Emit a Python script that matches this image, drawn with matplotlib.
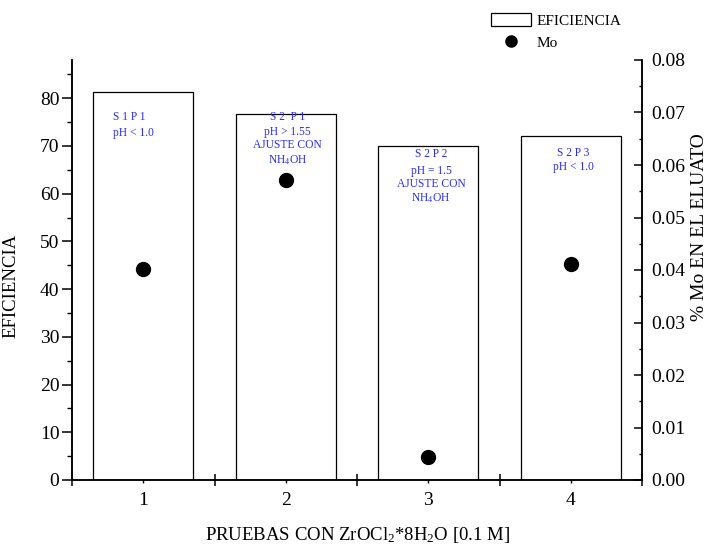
import matplotlib
matplotlib.use("Agg")
import matplotlib.pyplot as plt
from matplotlib.ticker import FixedLocator, MultipleLocator, NullFormatter, FixedFormatter, FormatStrFormatter

plt.rcParams['font.family'] = ['Liberation Serif', 'DejaVu Serif']
plt.rcParams['mathtext.fontset'] = 'custom'
plt.rcParams['mathtext.rm'] = 'Liberation Serif'
plt.rcParams['mathtext.it'] = 'Liberation Serif:italic'
plt.rcParams['mathtext.bf'] = 'Liberation Serif:bold'

# ---- data ----
pruebas = [1, 2, 3, 4]
tick_labels = ['1', '2', '3', '4']
eficiencia = [81.2, 76.6, 70.0, 72.1]
mo = [0.0402, 0.0571, 0.0043, 0.0411]
anotaciones = [
    ['S 1 P 1', 'pH < 1.0'],
    ['S 2  P 1', 'pH > 1.55', 'AJUSTE CON', 'NH$_4$OH'],
    ['S 2 P 2', 'pH = 1.5', 'AJUSTE CON', 'NH$_4$OH'],
    ['S 2 P 3', 'pH < 1.0'],
]

W, H = 710, 549
fig = plt.figure(figsize=(W / 100, H / 100), dpi=100)
ax = fig.add_axes([72 / W, 1 - 480 / H, 570 / W, 420 / H])
ax2 = ax.twinx()

bars = ax.bar(pruebas, eficiencia, width=0.7, facecolor='white',
              edgecolor='black', linewidth=0.9, label='EFICIENCIA', zorder=2)
pts, = ax2.plot(pruebas, mo, 'o', color='black', markersize=10,
                linestyle='none', label='Mo', zorder=3)

ax.set_xlim(0.5, 4.5)
ax.set_ylim(0, 88)
ax2.set_ylim(0, 0.08)

for a in (ax, ax2):
    a.spines['top'].set_visible(False)
    for s in ('left', 'right', 'bottom'):
        a.spines[s].set_linewidth(1.1)

# x ticks: major crossing ticks at half positions, minor labelled at 1..4
ax.xaxis.set_major_locator(FixedLocator([0.5, 1.5, 2.5, 3.5, 4.5]))
ax.xaxis.set_major_formatter(NullFormatter())
ax.xaxis.set_minor_locator(FixedLocator(pruebas))
ax.xaxis.set_minor_formatter(FixedFormatter(tick_labels))
ax.tick_params(axis='x', which='major', direction='inout', length=9, width=1.1)
ax.tick_params(axis='x', which='minor', direction='out', length=2.5, width=1.0,
               labelsize=14, pad=6)

ax.yaxis.set_major_locator(MultipleLocator(10))
ax.yaxis.set_minor_locator(MultipleLocator(5))
ax.tick_params(axis='y', which='major', direction='out', length=7, width=1.1,
               labelsize=14, pad=2)
ax.tick_params(axis='y', which='minor', direction='out', length=3.5, width=1.0)

ax2.yaxis.set_major_locator(MultipleLocator(0.01))
ax2.yaxis.set_minor_locator(MultipleLocator(0.005))
ax2.yaxis.set_major_formatter(FormatStrFormatter('%.2f'))
ax2.tick_params(axis='y', which='major', direction='in', length=5.5, width=1.1,
                labelsize=14, pad=7)
ax2.tick_params(axis='y', which='minor', direction='in', length=2.5, width=1.0)

# axis titles
fig.text(358 / W, 1 - 535 / H, 'PRUEBAS CON ZrOCl$_2$*8H$_2$O [0.1 M]',
         fontsize=13.5, ha='center', va='center')
fig.text(11 / W, 1 - 286 / H, 'EFICIENCIA', fontsize=13.5, rotation=90,
         ha='center', va='center')
fig.text(700 / W, 1 - 227 / H, '% Mo EN EL ELUATO', fontsize=14, rotation=90,
         ha='center', va='center')

# annotations
blue = '#2b2bff'
ann_pos = [
    (0.79, [76.0, 72.7], 'left'),
    (2.01, [76.0, 73.0, 70.1, 67.0], 'center'),
    (3.02, [68.3, 64.8, 62.0, 59.1], 'center'),
    (4.02, [68.5, 65.5], 'center'),
]
for lines, (x, ys, ha) in zip(anotaciones, ann_pos):
    for t, y in zip(lines, ys):
        ax.text(x, y, t, color=blue, fontsize=8.3, ha=ha, va='center', zorder=4)

leg = fig.legend(handles=[bars, pts], labels=['EFICIENCIA', 'Mo'],
                 loc='upper left', bbox_to_anchor=(488 / W, 1 - 10 / H),
                 frameon=False, fontsize=11, handlelength=2.6, handleheight=0.9,
                 handletextpad=0.35, labelspacing=0.5, borderaxespad=0,
                 borderpad=0.2)
for h in leg.legend_handles:
    if hasattr(h, 'set_markersize'):
        h.set_markersize(8)

fig.savefig('out.png', dpi=100)
